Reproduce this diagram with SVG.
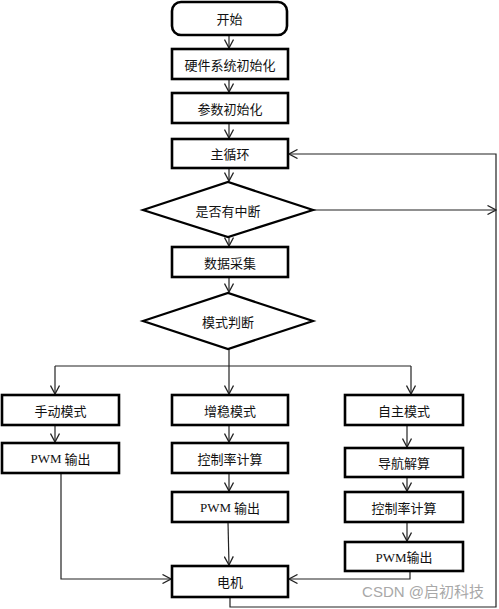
<svg xmlns="http://www.w3.org/2000/svg" width="499" height="609" viewBox="0 0 499 609">
<defs>
<marker id="arr" viewBox="0 0 10 10" refX="9.5" refY="5" markerWidth="10" markerHeight="10" markerUnits="userSpaceOnUse" orient="auto">
<path d="M1,0.5 L9.5,5 L1,9.5" fill="none" stroke="#222" stroke-width="1.3"/>
</marker>
<style>
.box{fill:#fff;stroke:#000;stroke-width:2.6}
.dia{fill:#fff;stroke:#000;stroke-width:2.2}
.t{font-family:"Noto Sans CJK SC","Noto Sans",sans-serif;font-size:13px;fill:#111;text-anchor:middle;dominant-baseline:central}
.pwm{font-family:"Liberation Serif",serif;font-size:13px}
.c{fill:none;stroke:#222;stroke-width:1.2}
.ca{fill:none;stroke:#222;stroke-width:1.2;marker-end:url(#arr)}
.wm{font-family:"Liberation Sans","Noto Sans CJK SC",sans-serif;font-size:15px;fill:#a8a8a8;text-anchor:end}
</style>
</defs>
<rect width="499" height="609" fill="#fff"/>
<g id="connectors">
<line class="ca" x1="229" y1="35" x2="229" y2="48"/>
<line class="ca" x1="229" y1="79" x2="229" y2="92"/>
<line class="ca" x1="229" y1="123" x2="229" y2="138"/>
<line class="ca" x1="229" y1="168" x2="229" y2="181"/>
<line class="ca" x1="229" y1="237" x2="229" y2="246"/>
<line class="ca" x1="229" y1="277" x2="229" y2="292"/>
<polyline class="c" points="229,349 229,366"/>
<polyline class="ca" points="55,366 55,394"/>
<line class="c" x1="55" y1="366" x2="411" y2="366"/>
<line class="ca" x1="229" y1="366" x2="229" y2="394"/>
<line class="ca" x1="411" y1="366" x2="411" y2="394"/>
<line class="ca" x1="55" y1="425" x2="55" y2="442"/>
<line class="ca" x1="229" y1="425" x2="229" y2="442"/>
<line class="ca" x1="229" y1="473" x2="229" y2="491"/>
<line class="ca" x1="228" y1="522" x2="229" y2="565"/>
<line class="ca" x1="407" y1="425" x2="407" y2="447"/>
<line class="ca" x1="407" y1="477" x2="407" y2="491"/>
<line class="ca" x1="407" y1="522" x2="407" y2="541"/>
<polyline class="ca" points="61,473 61,579 171,579"/>
<polyline class="ca" points="410,571 410,579 289,579"/>
<polyline class="ca" points="230,597 230,607 496,607 496,154 289,154"/>
<line class="ca" x1="313" y1="210" x2="496" y2="210"/>
</g>
<g id="start"><rect class="box" x="172" y="2" width="115" height="33" rx="9"/><text class="t" x="229.5" y="18.5">开始</text></g>
<g id="hwinit"><rect class="box" x="172" y="49" width="116" height="30"/><text class="t" x="230" y="64">硬件系统初始化</text></g>
<g id="paraminit"><rect class="box" x="172" y="93" width="116" height="30"/><text class="t" x="230" y="108">参数初始化</text></g>
<g id="mainloop"><rect class="box" x="172" y="139" width="116" height="29"/><text class="t" x="230" y="153.5">主循环</text></g>
<g id="interrupt"><polygon class="dia" points="143,210 228,182 313,210 228,237"/><text class="t" x="228" y="210">是否有中断</text></g>
<g id="datacollect"><rect class="box" x="172" y="247" width="116" height="30"/><text class="t" x="230" y="262">数据采集</text></g>
<g id="modejudge"><polygon class="dia" points="143,321 228,293 313,321 228,349"/><text class="t" x="228" y="321">模式判断</text></g>
<g id="manual"><rect class="box" x="2" y="395" width="117" height="30"/><text class="t" x="60.5" y="410">手动模式</text></g>
<g id="stabilize"><rect class="box" x="172" y="395" width="116" height="30"/><text class="t" x="230" y="410">增稳模式</text></g>
<g id="auto"><rect class="box" x="345" y="395" width="118" height="30"/><text class="t" x="404" y="410">自主模式</text></g>
<g id="pwm1"><rect class="box" x="2" y="443" width="117" height="30"/><text class="t" x="60.5" y="458"><tspan class="pwm">PWM</tspan> 输出</text></g>
<g id="ctrl1"><rect class="box" x="172" y="443" width="116" height="30"/><text class="t" x="230" y="458">控制率计算</text></g>
<g id="nav"><rect class="box" x="345" y="448" width="118" height="29"/><text class="t" x="404" y="462.5">导航解算</text></g>
<g id="pwm2"><rect class="box" x="172" y="492" width="116" height="30"/><text class="t" x="230" y="507"><tspan class="pwm">PWM</tspan> 输出</text></g>
<g id="ctrl2"><rect class="box" x="345" y="492" width="118" height="30"/><text class="t" x="404" y="507">控制率计算</text></g>
<g id="pwm3"><rect class="box" x="345" y="542" width="118" height="29"/><text class="t" x="404" y="556.5"><tspan class="pwm">PWM</tspan>输出</text></g>
<g id="motor"><rect class="box" x="172" y="566" width="116" height="31"/><text class="t" x="230" y="581.5">电机</text></g>
<text class="wm" x="484" y="597">CSDN @启初科技</text>
</svg>
